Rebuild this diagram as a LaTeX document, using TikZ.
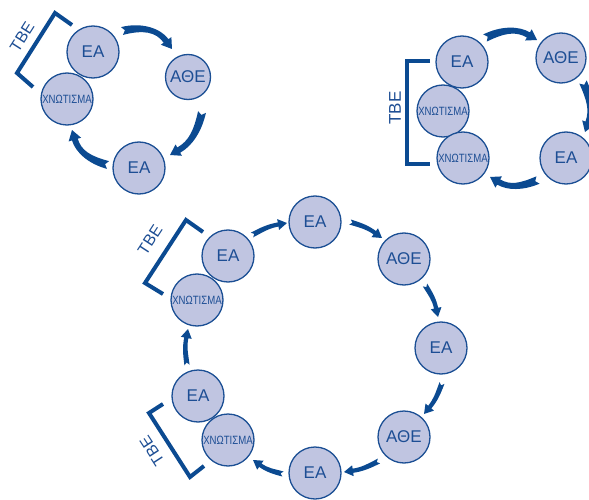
\documentclass[tikz,border=0pt]{standalone}
\usepackage{fontspec}
\usepackage{graphicx}
\setmainfont{Liberation Sans}
\usetikzlibrary{calc}
\definecolor{cfill}{HTML}{C0C5E1}
\definecolor{cborder}{HTML}{1B4F94}
\definecolor{ctext}{HTML}{1D4E94}
\definecolor{ablue}{HTML}{0B4A91}
\tikzset{
  cell/.style={circle, draw=cborder, fill=cfill, line width=1.3pt, minimum size=52pt,
    inner sep=0pt, text=ctext, font=\fontsize{17}{17}\selectfont},
  smallcell/.style={cell, minimum size=45pt},
  xncell/.style={cell, font=\fontsize{12}{12}\selectfont},
  bracketline/.style={draw=ablue, line width=4pt},
  tbe/.style={text=ctext, font=\fontsize{16}{16}\selectfont, inner sep=0pt},
  arrowfill/.style={fill=ablue, draw=none},
}
\def\awa{4}\def\awb{3}\def\ahw{6.5}\def\ahl{10}\def\ant{3}
\newcommand\carrow[3]{%
  \pgfpointdiff{\pgfpointanchor{#1}{center}}{\pgfpointanchor{#2}{center}}%
  \pgfgetlastxy{\cdx}{\cdy}%
  \pgfmathsetmacro\cang{atan2(\cdy,\cdx)}%
  \pgfmathsetmacro\cL{veclen(\cdx,\cdy)}%
  \pgfmathsetmacro\cth{atan2(4*(#3),\cL)}%
  \pgfmathsetmacro\cs{sin(\cth)}%
  \pgfmathsetmacro\cc{cos(\cth)}%
  \pgfmathsetmacro\cHx{\cL-\ahl*\cc}%
  \pgfmathsetmacro\cHy{\ahl*\cs}%
  \pgfmathsetmacro\cCx{\cL-(\ahl+\cL/4)*\cc}%
  \pgfmathsetmacro\cCy{(\ahl+\cL/4)*\cs}%
  \pgfmathsetmacro\cBx{\cL/3}%
  \pgfmathsetmacro\cBy{4*(#3)/3}%
  \begin{scope}[shift={(#1)}, rotate=\cang, x=1pt, y=1pt]
    \fill[arrowfill]
      ({-\cs*\awa},{\cc*\awa})
      .. controls ({\cBx-\cs*\awa},{\cBy+\cc*\awa}) and ({\cCx+\cs*\awb},{\cCy+\cc*\awb}) ..
      ({\cHx+\cs*\awb},{\cHy+\cc*\awb})
      -- ({\cHx+\cs*\ahw},{\cHy+\cc*\ahw})
      -- (\cL,0)
      -- ({\cHx-\cs*\ahw},{\cHy-\cc*\ahw})
      -- ({\cHx-\cs*\awb},{\cHy-\cc*\awb})
      .. controls ({\cCx-\cs*\awb},{\cCy-\cc*\awb}) and ({\cBx+\cs*\awa},{\cBy-\cc*\awa}) ..
      ({\cs*\awa},{-\cc*\awa})
      -- ({\cc*\ant},{\cs*\ant})
      -- cycle;
  \end{scope}}
\begin{document}
\begin{tikzpicture}[x=1pt, y=-1pt]
\useasboundingbox (0,0) rectangle (589,500);
\clip (0,0) rectangle (589,500);

% ---------- diagram 1 ----------
\node[cell] (ea1) at (93,52) {ΕΑ};
\node[smallcell] (athe1) at (188,77) {ΑΘΕ};
\node[xncell] (xn1) at (67,99) {\scalebox{0.8}[1]{ΧΝΩΤΙΣΜΑ}};
\node[cell] (ea1b) at (139,168) {ΕΑ};
\draw[bracketline] (72,25) -- (55,13) -- (17,73) -- (33,87);
\node[tbe, rotate=57.6] (tbe1) at (22,37) {ΤΒΕ};
\coordinate (a1s) at (122,31);  \coordinate (a1e) at (172,49);
\coordinate (b1s) at (202,112); \coordinate (b1e) at (170,155);
\coordinate (c1s) at (108,165); \coordinate (c1e) at (72,130);
\carrow{a1s}{a1e}{9}
\carrow{b1s}{b1e}{6}
\carrow{c1s}{c1e}{7}

% ---------- diagram 2 ----------
\node[cell] (ea2) at (462,62) {ΕΑ};
\node[cell, minimum size=50pt] (athe2) at (561,58) {ΑΘΕ};
\node[xncell] (xn2a) at (443,111) {\scalebox{0.8}[1]{ΧΝΩΤΙΣΜΑ}};
\node[xncell] (xn2b) at (463,158) {\scalebox{0.8}[1]{ΧΝΩΤΙΣΜΑ}};
\node[cell] (ea2b) at (566,158) {ΕΑ};
\draw[bracketline] (430,61) -- (407,61) -- (407,164) -- (430,164);
\node[tbe, rotate=90, font=\fontsize{17}{17}\selectfont] (tbe2) at (395,108) {ΤΒΕ};
\coordinate (a2s) at (485,38);  \coordinate (a2e) at (537,40);
\coordinate (b2s) at (583,82);  \coordinate (b2e) at (585,132);
\coordinate (c2s) at (538,180); \coordinate (c2e) at (490,177);
\carrow{a2s}{a2e}{7}
\carrow{b2s}{b2e}{5}
\carrow{c2s}{c2e}{6}

% ---------- diagram 3 ----------
\node[cell] (ea3a) at (228,256) {ΕΑ};
\node[xncell] (xn3a) at (197,300) {\scalebox{0.8}[1]{ΧΝΩΤΙΣΜΑ}};
\node[cell] (ea3b) at (315,222) {ΕΑ};
\node[cell] (athe3a) at (404,259) {ΑΘΕ};
\node[cell] (ea3c) at (441,348) {ΕΑ};
\node[cell] (athe3b) at (404,437) {ΑΘΕ};
\node[cell] (ea3d) at (315,473) {ΕΑ};
\node[cell] (ea3e) at (198,396) {ΕΑ};
\node[xncell] (xn3b) at (228,440) {\scalebox{0.8}[1]{ΧΝΩΤΙΣΜΑ}};
\draw[bracketline] (203,232) -- (186,220) -- (145,283) -- (163,294);
\node[tbe, rotate=57] (tbe3) at (150,240) {ΤΒΕ};
\draw[bracketline] (163,404) -- (149,413) -- (190,477) -- (204,466);
\node[tbe, rotate=123] (tbe4) at (152,451) {ΤΒΕ};
\coordinate (d1s) at (252,235); \coordinate (d1e) at (287,223);
\coordinate (d2s) at (350,222); \coordinate (d2e) at (382,238);
\coordinate (d3s) at (425,285); \coordinate (d3e) at (438,317);
\coordinate (d4s) at (442,383); \coordinate (d4e) at (424,414);
\coordinate (d5s) at (379,461); \coordinate (d5e) at (344,472);
\coordinate (d6s) at (283,474); \coordinate (d6e) at (253,460);
\coordinate (d7s) at (187,365); \coordinate (d7e) at (188,329);
\def\awa{2.6}\def\awb{2.1}\def\ahw{5.5}\def\ahl{9}\def\ant{2.5}
\carrow{d1s}{d1e}{1.5}
\carrow{d2s}{d2e}{1.5}
\carrow{d3s}{d3e}{1.5}
\carrow{d4s}{d4e}{1.5}
\carrow{d5s}{d5e}{1.5}
\carrow{d6s}{d6e}{1.5}
\carrow{d7s}{d7e}{1.5}
\end{tikzpicture}
\end{document}
